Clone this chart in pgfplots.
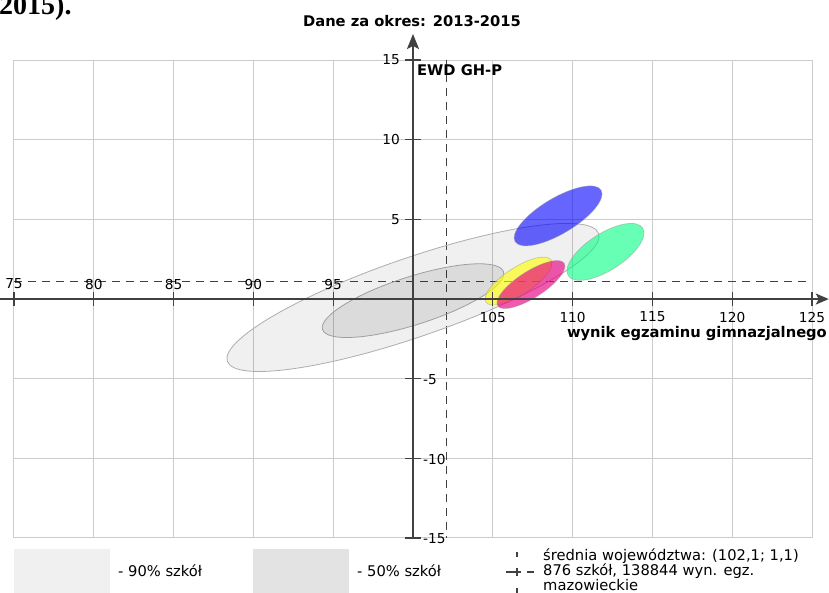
\documentclass[border=0pt]{standalone}
\usepackage{fontspec}
\setmainfont{DejaVu Sans}
\newfontfamily\timesfont{Liberation Serif}
\usepackage{pgfplots}
\pgfplotsset{compat=1.18}
\usetikzlibrary{arrows.meta}

\definecolor{gridgray}{RGB}{204,204,204}
\definecolor{axisgray}{RGB}{65,65,65}
\definecolor{ewdblue}{RGB}{0,0,255}
\definecolor{ewdgreen}{RGB}{0,255,128}
\definecolor{ewdyellow}{RGB}{255,255,0}
\definecolor{ewdpink}{RGB}{232,0,130}

\begin{document}
\begin{tikzpicture}[x=1pt,y=1pt]
\begin{axis}[
    at={(14pt,55pt)}, anchor=south west,
    x=15.96pt, y=15.93pt,
    xmin=75, xmax=125, ymin=-15, ymax=15,
    xtick={75,80,...,125}, ytick={-15,-10,...,15},
    xticklabels={}, yticklabels={},
    major tick length=0pt,
    grid=major,
    grid style={gridgray, line width=1pt},
    axis line style={gridgray, line width=1pt},
    clip=false,
]
% mean of the voivodeship
\draw[axisgray, line width=1.5pt, dash pattern=on 8pt off 6pt] (axis cs:75,1.1) -- (axis cs:125,1.1);
\draw[axisgray, line width=1.5pt, dash pattern=on 8pt off 6pt] (axis cs:102.1,15) -- (axis cs:102.1,-15);

% schools: 90% and 50% areas
\draw[black!32, line width=0.8pt, fill=black, fill opacity=0.06]
    (axis cs:100,0.1) [rotate around={19:(axis cs:100,0.1)}] ellipse [x radius=12.3, y radius=2.48];
\draw[black!38, line width=0.8pt, fill=black, fill opacity=0.085]
    (axis cs:100,-0.1) [rotate around={17.7:(axis cs:100,-0.1)}] ellipse [x radius=5.95, y radius=1.51];
% schools
\draw[black!40, draw opacity=0.5, line width=0.7pt, fill=ewdblue, fill opacity=0.6]
    (axis cs:109.09,5.22) [rotate around={30.9:(axis cs:109.09,5.22)}] ellipse [x radius=3.14, y radius=1.12];
\draw[black!40, draw opacity=0.5, line width=0.7pt, fill=ewdgreen, fill opacity=0.6]
    (axis cs:112.06,2.96) [rotate around={32.7:(axis cs:112.06,2.96)}] ellipse [x radius=2.77, y radius=1.16];
\draw[black!40, draw opacity=0.5, line width=0.7pt, fill=ewdyellow, fill opacity=0.62]
    (axis cs:106.61,1.13) [rotate around={32.8:(axis cs:106.61,1.13)}] ellipse [x radius=2.43, y radius=0.86];
\draw[black!40, draw opacity=0.5, line width=0.7pt, fill=ewdpink, fill opacity=0.65]
    (axis cs:107.39,0.91) [rotate around={32.6:(axis cs:107.39,0.91)}] ellipse [x radius=2.47, y radius=0.83];

% axes
\draw[axisgray, line width=1.6pt, -{Stealth[length=13pt,width=11pt,inset=3pt]}]
    (axis cs:74.12,0) -- (axis cs:126.05,0);
\draw[axisgray, line width=1.6pt, -{Stealth[length=15pt,width=12pt,inset=3pt]}]
    (axis cs:100,-15) -- (axis cs:100,16.64);
\pgfplotsinvokeforeach{75,80,...,95}{
    \draw[axisgray, line width=1.3pt] (axis cs:#1,0) ++(0pt,-7pt) -- ++(0pt,14pt);
    \node[inner sep=0pt, font=\fontsize{13.7}{14}\selectfont] at (axis cs:#1,0) [yshift=15pt] {#1};
}
\pgfplotsinvokeforeach{105,110,...,125}{
    \draw[axisgray, line width=1.3pt] (axis cs:#1,0) ++(0pt,-7pt) -- ++(0pt,14pt);
    \node[inner sep=0pt, font=\fontsize{13.7}{14}\selectfont] at (axis cs:#1,0) [yshift=-18pt] {#1};
}
\pgfplotsinvokeforeach{5,10,15}{
    \draw[axisgray, line width=1.3pt] (axis cs:100,#1) ++(-8pt,0pt) -- ++(16pt,0pt);
    \node[inner sep=0pt, anchor=east, font=\fontsize{13.7}{14}\selectfont] at (axis cs:100,#1) [xshift=-13pt] {#1};
}
\pgfplotsinvokeforeach{-5,-10,-15}{
    \draw[axisgray, line width=1.3pt] (axis cs:100,#1) ++(-8pt,0pt) -- ++(16pt,0pt);
    \node[inner sep=0pt, anchor=west, font=\fontsize{13.7}{14}\selectfont] at (axis cs:100,#1) [xshift=10pt, yshift=-1pt] {#1};
}
\end{axis}

% texts around the plot
\node[anchor=base west, inner sep=0pt, font=\timesfont\bfseries\fontsize{28}{28}\selectfont] at (-1,578) {2015).};
\node[anchor=base, inner sep=0pt, font=\bfseries\fontsize{14.7}{15}\selectfont] at (412,566) {Dane za okres: 2013-2015};
\node[anchor=base west, inner sep=0pt, font=\bfseries\fontsize{14.7}{15}\selectfont] at (417,517) {EWD GH-P};
\node[anchor=base east, inner sep=0pt, font=\bfseries\fontsize{14.7}{15}\selectfont] at (827,255) {wynik egzaminu gimnazjalnego};

% legend
\fill[black!6] (14,-5) rectangle (110,44);
\fill[black!11] (253,-5) rectangle (349,44);
\node[anchor=base west, inner sep=0pt, font=\fontsize{14.7}{15}\selectfont] at (118,16) {- 90\% szkół};
\node[anchor=base west, inner sep=0pt, font=\fontsize{14.7}{15}\selectfont] at (357,16) {- 50\% szkół};
\draw[axisgray, line width=1.3pt] (517,41) -- (517,36) (517,25) -- (517,17) (517,5) -- (517,0);
\draw[axisgray, line width=1.3pt] (506,21) -- (513,21) (513,21) -- (521,21) (527,21) -- (534,21);
\node[anchor=base west, inner sep=0pt, font=\fontsize{14.7}{15}\selectfont] at (543,32) {średnia województwa: (102,1; 1,1)};
\node[anchor=base west, inner sep=0pt, font=\fontsize{14.7}{15}\selectfont] at (543,17) {876 szkół, 138844 wyn. egz.};
\node[anchor=base west, inner sep=0pt, font=\fontsize{14.7}{15}\selectfont] at (543,2) {mazowieckie};

\pgfresetboundingbox
\useasboundingbox (0,0) rectangle (829,593);
\end{tikzpicture}
\end{document}
